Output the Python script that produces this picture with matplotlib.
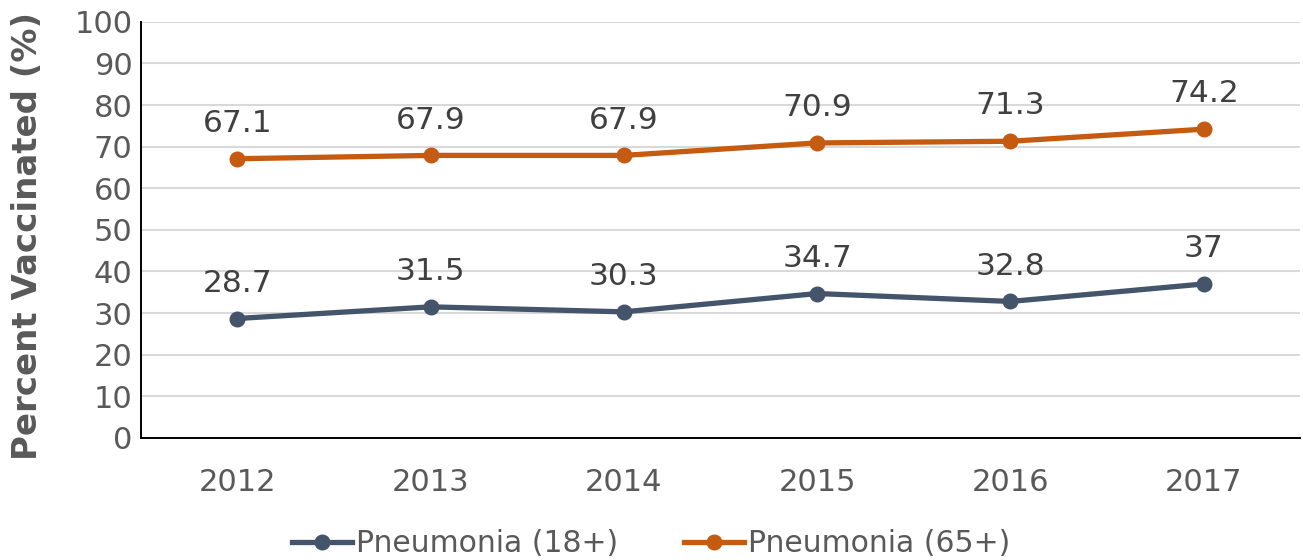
import numpy as np
import matplotlib
matplotlib.use('Agg')
import matplotlib.pyplot as plt

years = ['2012', '2013', '2014', '2015', '2016', '2017']
pneu_18 = [28.7, 31.5, 30.3, 34.7, 32.8, 37]
pneu_65 = [67.1, 67.9, 67.9, 70.9, 71.3, 74.2]
labels_18 = ['28.7', '31.5', '30.3', '34.7', '32.8', '37']
labels_65 = ['67.1', '67.9', '67.9', '70.9', '71.3', '74.2']

c18 = '#44546A'
c65 = '#C55A11'

plt.rcParams['font.family'] = ['DejaVu Sans']
fig = plt.figure(figsize=(13.03, 5.6), dpi=100)
ax = fig.add_axes([0.108, 0.218, 0.89, 0.743])

x = np.arange(len(years))
ax.plot(x, pneu_18, color=c18, lw=3.8, marker='o', ms=10.5, label='Pneumonia (18+)', zorder=3)
ax.plot(x, pneu_65, color=c65, lw=3.8, marker='o', ms=10.5, label='Pneumonia (65+)', zorder=3)

for xi, v, t in zip(x, pneu_18, labels_18):
    ax.annotate(t, (xi, v), xytext=(0, 15), textcoords='offset points', ha='center', va='bottom',
                fontsize=22.5, color='#404040')
for xi, v, t in zip(x, pneu_65, labels_65):
    ax.annotate(t, (xi, v), xytext=(0, 15), textcoords='offset points', ha='center', va='bottom',
                fontsize=22.5, color='#404040')

ax.set_xlim(-0.5, 5.5)
ax.set_ylim(0, 100)
ax.set_yticks(range(0, 101, 10))
ax.set_xticks(x)
ax.set_xticklabels(years)
ax.tick_params(axis='both', length=0, labelsize=22, labelcolor='#595959')
ax.tick_params(axis='x', pad=22)
ax.tick_params(axis='y', pad=6)
ax.grid(axis='y', color='#D9D9D9', lw=1.5)
ax.set_axisbelow(True)
for s in ['top', 'right']:
    ax.spines[s].set_visible(False)
ax.spines['left'].set_color('black')
ax.spines['bottom'].set_color('black')
ax.spines['left'].set_linewidth(1.4)
ax.spines['bottom'].set_linewidth(1.4)

ax.set_ylabel('Percent Vaccinated (%)', fontsize=24.5, fontweight='bold', color='#595959')
ax.yaxis.set_label_coords(-0.083, 0.485)

leg = fig.legend(loc='lower center', bbox_to_anchor=(0.5, -0.045), ncol=2, frameon=False,
                 prop={'size': 21.5}, handlelength=2.0, handletextpad=0.15,
                 columnspacing=2.2)
for t in leg.get_texts():
    t.set_color('#595959')

fig.savefig('out.png', dpi=100)
